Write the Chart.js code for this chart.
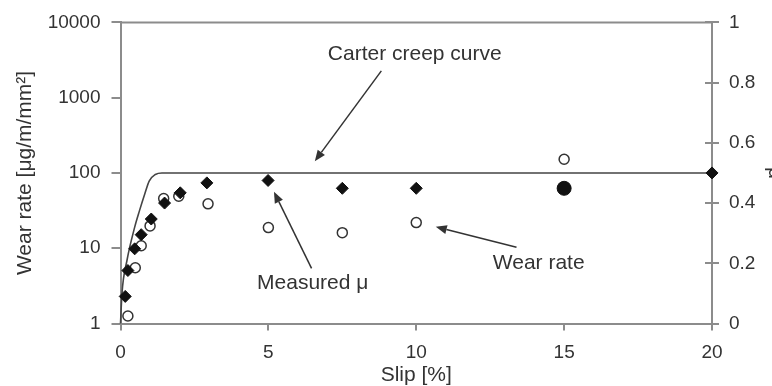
<!DOCTYPE html>
<html>
<head>
<meta charset="utf-8">
<script src="https://cdn.jsdelivr.net/npm/chart.js@4"></script>
<style>
  html, body { margin: 0; padding: 0; background: #fff; overflow: hidden; }
  #chart { display: block; }
</style>
</head>
<body>
<canvas id="chart" width="772" height="386"></canvas>
<script>
// Wear rate (left, log) and friction coefficient (right) against slip
const wearSlip = [0.25, 0.5, 0.7, 1.0, 1.46, 1.97, 2.96, 5, 7.5, 10, 15];
const wearRate = [1.26, 5.5, 10.8, 19.8, 45.8, 49, 38.9, 18.8, 16.1, 21.9, 152];

const muSlip = [0.16, 0.25, 0.48, 0.7, 1.04, 1.49, 2.02, 2.92, 4.99, 7.5, 10, 15, 20];
const muMeasured = [0.09, 0.176, 0.248, 0.295, 0.347, 0.40, 0.434, 0.467, 0.475, 0.449, 0.449, 0.449, 0.5];

const carterSlip = [0, 0.05, 0.22, 0.48, 0.64, 0.82, 0.97, 1.18, 1.4, 20];
const carterMu = [0, 0.10, 0.21, 0.32, 0.374, 0.43, 0.473, 0.495, 0.5, 0.5];

const slipTicks = [0, 5, 10, 15, 20];
const wearTicks = [1, 10, 100, 1000, 10000];
const muTicks = [0, 0.2, 0.4, 0.6, 0.8, 1];

const FONT = "'Liberation Sans', Arial, Helvetica, sans-serif";
const INK = '#333';
const AXIS = '#8c8c8c';

// text + arrow annotations, in data units (slip, mu)
const notes = [
    { text: 'Carter creep curve', at: [9.95, 0.895], from: [8.82, 0.839], to: [6.57, 0.539] },
    { text: 'Measured \u03bc', at: [6.5, 0.133], from: [6.46, 0.183], to: [5.19, 0.4375] },
    { text: 'Wear rate', at: [14.14, 0.199], from: [13.39, 0.253], to: [10.66, 0.321] }
];

const zip = (xs, ys) => xs.map((x, i) => ({ x: x, y: ys[i] }));
const bigPoint = 11; // the 15 % point of measured mu is drawn as a big dot

const extras = {
    id: 'extras',
    afterDraw(chart) {
        const { ctx, chartArea: a } = chart;
        const sx = chart.scales.x, sm = chart.scales.y1;
        ctx.save();
        // top frame line
        ctx.strokeStyle = AXIS;
        ctx.lineWidth = 2;
        ctx.beginPath();
        ctx.moveTo(a.left, a.top);
        ctx.lineTo(a.right, a.top);
        ctx.stroke();
        // inside half of right-axis ticks
        muTicks.forEach(v => {
            const y = Math.round(sm.getPixelForValue(v));
            ctx.beginPath();
            ctx.moveTo(a.right - 7, y);
            ctx.lineTo(a.right, y);
            ctx.stroke();
        });
        // annotations
        ctx.fillStyle = INK;
        ctx.strokeStyle = INK;
        ctx.lineWidth = 1.5;
        ctx.font = '21px ' + FONT;
        ctx.textAlign = 'center';
        ctx.textBaseline = 'middle';
        notes.forEach(n => {
            ctx.fillText(n.text, sx.getPixelForValue(n.at[0]), sm.getPixelForValue(n.at[1]));
            const x1 = sx.getPixelForValue(n.from[0]), y1 = sm.getPixelForValue(n.from[1]);
            const x2 = sx.getPixelForValue(n.to[0]), y2 = sm.getPixelForValue(n.to[1]);
            const ang = Math.atan2(y2 - y1, x2 - x1);
            const len = 11, hw = 4.5;
            const bx = x2 - len * Math.cos(ang), by = y2 - len * Math.sin(ang);
            ctx.beginPath();
            ctx.moveTo(x1, y1);
            ctx.lineTo(bx, by);
            ctx.stroke();
            ctx.beginPath();
            ctx.moveTo(x2, y2);
            ctx.lineTo(bx + hw * Math.sin(ang), by - hw * Math.cos(ang));
            ctx.lineTo(bx - hw * Math.sin(ang), by + hw * Math.cos(ang));
            ctx.closePath();
            ctx.fill();
        });
        ctx.restore();
    }
};

// first dataset is painted last, so the diamonds sit on top
new Chart(document.getElementById('chart'), {
    type: 'scatter',
    data: {
        datasets: [{
            label: 'Measured \u03bc',
            data: zip(muSlip, muMeasured),
            yAxisID: 'y1',
            pointStyle: ctx => ctx.dataIndex === bigPoint ? 'circle' : 'rectRot',
            pointRadius: ctx => ctx.dataIndex === bigPoint ? 7 : 6,
            borderWidth: 1,
            borderColor: '#111',
            backgroundColor: '#111',
            clip: false
        }, {
            label: 'Wear rate',
            data: zip(wearSlip, wearRate),
            yAxisID: 'y',
            pointStyle: 'circle',
            pointRadius: 5,
            borderWidth: 1.5,
            borderColor: INK,
            backgroundColor: '#fff',
            clip: false
        }, {
            label: 'Carter creep curve',
            type: 'line',
            data: zip(carterSlip, carterMu),
            yAxisID: 'y1',
            borderColor: '#444',
            borderWidth: 1.6,
            pointRadius: 0,
            fill: false,
            cubicInterpolationMode: 'monotone',
            clip: false
        }]
    },
    options: {
        responsive: false,
        animation: false,
        layout: { padding: { top: 20, left: 0, right: 0, bottom: 0 } },
        plugins: { legend: { display: false }, tooltip: { enabled: false } },
        scales: {
            x: {
                type: 'linear',
                min: 0, max: 20,
                afterBuildTicks: s => { s.ticks = slipTicks.map(v => ({ value: v })); },
                afterFit: s => { s.height = 62.5; },
                border: { color: AXIS, width: 2 },
                grid: { drawOnChartArea: false, color: AXIS, lineWidth: 2, tickLength: 7 },
                ticks: { color: INK, font: { family: FONT, size: 19 }, padding: 11, maxRotation: 0 },
                title: { display: true, text: 'Slip [%]', color: INK, font: { family: FONT, size: 21 }, padding: { top: 0, bottom: -2 } }
            },
            y: {
                type: 'logarithmic',
                position: 'left',
                min: 1, max: 10000,
                afterBuildTicks: s => { s.ticks = wearTicks.map(v => ({ value: v })); },
                afterFit: s => { s.width = 120.5; },
                border: { color: AXIS, width: 2 },
                grid: { drawOnChartArea: false, color: AXIS, lineWidth: 2, tickLength: 9 },
                ticks: { color: INK, font: { family: FONT, size: 19 }, padding: 11, callback: v => String(v) },
                title: { display: true, text: 'Wear rate [\u03bcg/m/mm\u00b2]', color: INK, font: { family: FONT, size: 21 }, padding: { top: 13, bottom: 0 } }
            },
            y1: {
                type: 'linear',
                position: 'right',
                min: 0, max: 1,
                afterBuildTicks: s => { s.ticks = muTicks.map(v => ({ value: v })); },
                afterFit: s => { s.width = 60; },
                border: { color: AXIS, width: 2 },
                grid: { drawOnChartArea: false, color: AXIS, lineWidth: 2, tickLength: 7 },
                ticks: { color: INK, font: { family: FONT, size: 19 }, padding: 10, callback: v => String(v) },
                title: { display: true, text: '\u03bc', color: INK, font: { family: FONT, size: 21 }, padding: { top: -15, bottom: 0 } }
            }
        }
    },
    plugins: [extras]
});
</script>
</body>
</html>
